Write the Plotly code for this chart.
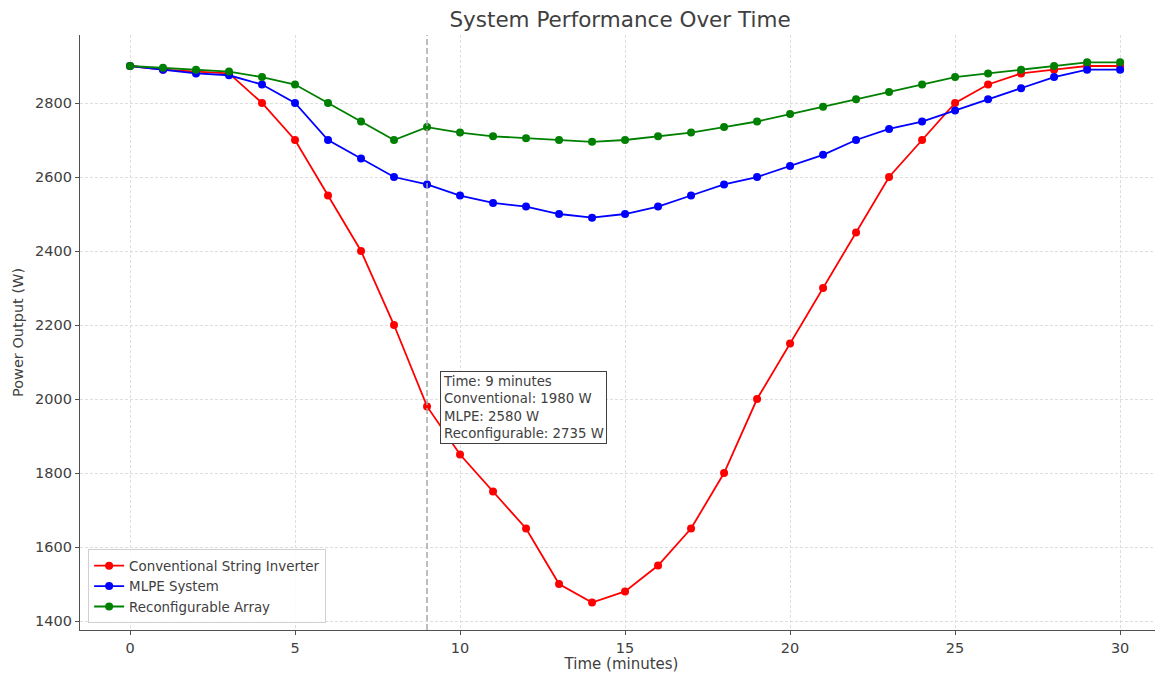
import plotly.graph_objects as go

time_min = list(range(31))
conventional = [2900, 2890, 2885, 2880, 2800, 2700, 2550, 2400, 2200, 1980,
                1850, 1750, 1650, 1500, 1450, 1480, 1550, 1650, 1800, 2000,
                2150, 2300, 2450, 2600, 2700, 2800, 2850, 2880, 2890, 2900, 2900]
mlpe = [2900, 2890, 2880, 2875, 2850, 2800, 2700, 2650, 2600, 2580,
        2550, 2530, 2520, 2500, 2490, 2500, 2520, 2550, 2580, 2600,
        2630, 2660, 2700, 2730, 2750, 2780, 2810, 2840, 2870, 2890, 2890]
reconfig = [2900, 2895, 2890, 2885, 2870, 2850, 2800, 2750, 2700, 2735,
            2720, 2710, 2705, 2700, 2695, 2700, 2710, 2720, 2735, 2750,
            2770, 2790, 2810, 2830, 2850, 2870, 2880, 2890, 2900, 2910, 2910]
series_names = ["Conventional String Inverter", "MLPE System", "Reconfigurable Array"]
series_colors = ["#ff0000", "#0000ff", "#008000"]
x_ticks = [0, 5, 10, 15, 20, 25, 30]
y_ticks = [1400, 1600, 1800, 2000, 2200, 2400, 2600, 2800]
marker_time = 9

FONT = "DejaVu Sans"
TXT = "#404040"
W, H = 1155, 665  # page body has an 8px margin

fig = go.Figure()
for name, vals, col in zip(series_names, [conventional, mlpe, reconfig], series_colors):
    fig.add_trace(go.Scatter(
        x=time_min, y=vals, name=name, mode="lines+markers",
        line=dict(color=col, width=1.8),
        marker=dict(color=col, size=8),
    ))

fig.add_vline(x=marker_time, line=dict(color="#a8a8a8", width=1.5, dash="6px,3px"))

idx = time_min.index(marker_time)
ann_text = (f"Time: {marker_time} minutes<br>"
            f"Conventional: {conventional[idx]} W<br>"
            f"MLPE: {mlpe[idx]} W<br>"
            f"Reconfigurable: {reconfig[idx]} W")
fig.add_annotation(
    x=marker_time + 0.38, y=2075, xref="x", yref="y",
    xanchor="left", yanchor="top", showarrow=False, align="left",
    text=ann_text, font=dict(family=FONT, size=13.3, color=TXT),
    bgcolor="white", bordercolor="#404040", borderwidth=1, borderpad=2,
)

fig.update_layout(
    width=W, height=H,
    margin=dict(l=72, r=0, t=27, b=43),
    paper_bgcolor="white", plot_bgcolor="white",
    font=dict(family=FONT, color=TXT),
    title=dict(text="System Performance Over Time", x=612 / W, xanchor="center",
               y=1 - 11 / H, yanchor="middle",
               font=dict(family=FONT, size=21.5, color=TXT)),
    legend=dict(x=0.0075, y=0.011, xanchor="left", yanchor="bottom",
                bgcolor="rgba(255,255,255,0.85)", bordercolor="#d0d0d0", borderwidth=1,
                font=dict(family=FONT, size=13.4, color=TXT),
                tracegroupgap=0, itemwidth=30),
    showlegend=True,
)
fig.update_xaxes(
    range=[-1.515, 31.3], tickvals=x_ticks, ticks="outside", ticklen=4,
    tickcolor="#505050", showline=True, linecolor="#505050", linewidth=1.2,
    showgrid=True, gridcolor="#dedede", griddash="3px,2px", gridwidth=1, zeroline=False,
    tickfont=dict(family=FONT, size=14.5, color=TXT),
    title=dict(text="Time (minutes)", font=dict(family=FONT, size=15, color=TXT), standoff=4),
)
fig.update_yaxes(
    range=[1375.7, 2983.8], tickvals=y_ticks, ticks="outside", ticklen=4,
    tickcolor="#505050", showline=True, linecolor="#505050", linewidth=1.2,
    showgrid=True, gridcolor="#dedede", griddash="3px,2px", gridwidth=1, zeroline=False,
    tickfont=dict(family=FONT, size=14.5, color=TXT),
    title=dict(text="Power Output (W)", font=dict(family=FONT, size=14.5, color=TXT), standoff=8),
)

fig.write_html("out.html")
